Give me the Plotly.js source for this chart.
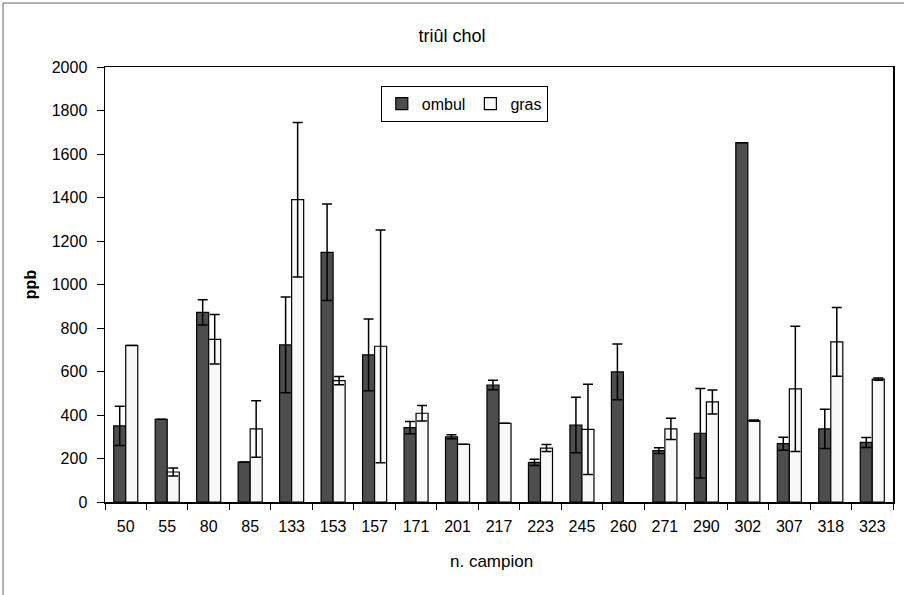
<!DOCTYPE html>
<html>
<head>
<meta charset="utf-8">
<script src="https://cdn.plot.ly/plotly-3.0.1.min.js"></script>
<style>html,body{margin:0;padding:0;background:#fff;}#chart{width:904px;height:595px;}</style>
</head>
<body>
<div id="chart"></div>
<script>
const categories = ["50","55","80","85","133","153","157","171","201","217","223","245","260","271","290","302","307","318","323"];
const ombulValues = [350, 380, 872, 184, 722, 1148, 676, 342, 300, 538, 182, 354, 598, 236, 316, 1652, 268, 336, 274];
const ombulErrors = [90, 0, 58, 0, 220, 222, 165, 28, 9, 22, 14, 128, 128, 13, 206, 0, 30, 90, 23];
const grasValues = [720, 138, 748, 336, 1390, 558, 716, 408, 265, 362, 248, 334, null, 336, 460, 374, 520, 736, 565];
const grasErrors = [0, 18, 114, 130, 355, 19, 535, 36, 0, 0, 16, 207, 0, 49, 55, 3, 288, 158, 5];
const yTicks = [0, 200, 400, 600, 800, 1000, 1200, 1400, 1600, 1800, 2000];

const font = "Liberation Sans, Arial, sans-serif";
const traces = [
  {
    type: "bar", name: "ombul", x: categories, y: ombulValues,
    marker: {color: "#4d4d4d", line: {color: "#000", width: 1.2}},
    error_y: {type: "data", array: ombulErrors, visible: true, color: "#000", thickness: 1.5, width: 5}
  },
  {
    type: "bar", name: "gras", x: categories, y: grasValues,
    marker: {color: "#f8f8f8", line: {color: "#000", width: 1.2}},
    error_y: {type: "data", array: grasErrors, visible: true, color: "#000", thickness: 1.5, width: 5}
  }
];

const layout = {
  width: 904, height: 595,
  margin: {l: 105, r: 11, t: 67, b: 93},
  paper_bgcolor: "#fff", plot_bgcolor: "#fff",
  font: {family: font, size: 16, color: "#000"},
  barmode: "group", bargap: 0.42, bargroupgap: 0,
  title: {text: "triûl chol", x: 0.5, xanchor: "center", y: 0.94, yanchor: "middle", font: {family: font, size: 18, color: "#000"}},
  xaxis: {
    type: "category", tickson: "boundaries", ticks: "outside", ticklen: 6, tickcolor: "#000", tickwidth: 1,
    showline: true, linecolor: "#000", linewidth: 1.5, mirror: true, showgrid: false,
    ticklabelstandoff: 9,
    tickfont: {family: font, size: 16, color: "#000"}
  },
  yaxis: {
    range: [0, 2000], tickmode: "array", tickvals: yTicks, ticktext: yTicks.map(String),
    ticks: "outside", ticklen: 7, tickcolor: "#000", tickwidth: 1,
    showline: true, linecolor: "#000", linewidth: 1.5, mirror: true, showgrid: false, zeroline: false,
    ticklabelstandoff: 6,
    tickfont: {family: font, size: 16, color: "#000"},
    title: {text: "<b>ppb</b>", font: {family: font, size: 16, color: "#000"}, standoff: 11}
  },
  annotations: [{
    text: "n. campion", xref: "paper", yref: "paper", x: 0.49, y: -0.137,
    xanchor: "center", yanchor: "middle", showarrow: false,
    font: {family: font, size: 17, color: "#000"}
  }],
  legend: {
    orientation: "h", x: 0.35, xanchor: "left", y: 0.957, yanchor: "top",
    bordercolor: "#000", borderwidth: 1, bgcolor: "#fff",
    font: {family: font, size: 16, color: "#000"}, itemwidth: 30, tracegroupgap: 0
  },
  showlegend: true,
  shapes: [{
    type: "rect", xref: "paper", yref: "paper",
    x0: -0.1294, x1: 1.05, y0: -0.4, y1: 1.147,
    line: {color: "#666", width: 1}, fillcolor: "rgba(0,0,0,0)", layer: "below"
  }]
};

Plotly.newPlot("chart", traces, layout, {displayModeBar: false, staticPlot: true});
</script>
</body>
</html>
